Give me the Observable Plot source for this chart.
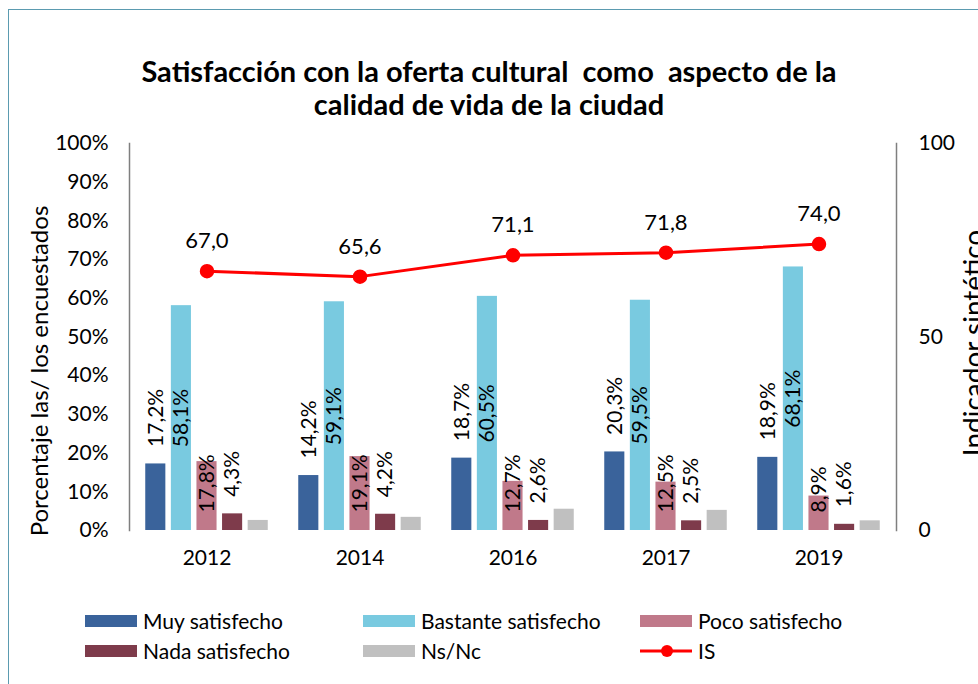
<!DOCTYPE html>
<html>
<head>
<meta charset="utf-8">
<script src="https://cdn.jsdelivr.net/npm/d3@7"></script>
<script src="https://cdn.jsdelivr.net/npm/@observablehq/plot@0.6"></script>
<style>
  html, body { margin: 0; padding: 0; background: #fff; }
  #chart { position: relative; width: 978px; height: 684px; overflow: hidden; font-family: Lato, sans-serif; color: #000; }
  #border { position: absolute; left: 8px; top: 9px; width: 1000px; height: 700px; border-left: 1.5px solid #5b9bb0; border-top: 1.5px solid #5b9bb0; }
  #title { position: absolute; left: 0; width: 978px; top: 54px; text-align: center; font-weight: bold; font-size: 29px; line-height: 33px; }
  .ytitle { position: absolute; white-space: nowrap; line-height: 1.2; transform: translate(-50%, -50%) rotate(-90deg); }
  #plot { position: absolute; left: 0; top: 0; }
  .leg { position: absolute; font-size: 21px; line-height: 22px; white-space: nowrap; }
  .sw { position: absolute; width: 52px; height: 12px; }
</style>
</head>
<body>
<div id="chart">
  <div id="border"></div>
  <div id="title">Satisfacción con la oferta cultural&nbsp; como&nbsp; aspecto de la<br>calidad de vida de la ciudad</div>
  <div id="plot"></div>
  <div class="ytitle" style="left:38.5px; top:371px; font-size:24px;">Porcentaje las/ los encuestados</div>
  <div class="ytitle" style="left:974px; top:343px; font-size:28px;">Indicador sintético</div>
  <div id="legend"></div>
</div>
<script>
const years = ["2012", "2014", "2016", "2017", "2019"];
const series = ["Muy satisfecho", "Bastante satisfecho", "Poco satisfecho", "Nada satisfecho", "Ns/Nc"];
const muy = [17.2, 14.2, 18.7, 20.3, 18.9];
const bastante = [58.1, 59.1, 60.5, 59.5, 68.1];
const poco = [17.8, 19.1, 12.7, 12.5, 8.9];
const nada = [4.3, 4.2, 2.6, 2.5, 1.6];
const nsnc = [2.6, 3.4, 5.5, 5.2, 2.5];
const isValues = [67.0, 65.6, 71.1, 71.8, 74.0];
const leftTicks = [0, 10, 20, 30, 40, 50, 60, 70, 80, 90, 100];
const rightTicks = [0, 50, 100];
const colors = ["#3a639b", "#79cae0", "#c0798a", "#7e3b4b", "#c0c0c0"];
const isColor = "#ff0000";

const seriesValues = [muy, bastante, poco, nada, nsnc];
const fmt = v => v.toFixed(1).replace(".", ",");

const step = 25.6, barW = 20.5;
const bandW = (978 - 129 - 82) / years.length;
const inset = (bandW - barW) / 2;
const fs = 21;

const marks = [];
marks.push(Plot.axisY({anchor: "left", ticks: leftTicks, tickFormat: d => d + "%", tickSize: 0, tickPadding: 21, fontSize: fs, label: null}));
marks.push(Plot.axisY({anchor: "right", ticks: rightTicks, tickFormat: d => String(d), tickSize: 0, tickPadding: 22, fontSize: fs, label: null}));
marks.push(Plot.axisX({tickSize: 0, tickPadding: 20, fontSize: fs, label: null}));

seriesValues.forEach((vals, j) => {
  const rows = years.map((y, i) => ({year: y, value: vals[i]}));
  const dx = (j - 2) * step;
  marks.push(Plot.barY(rows, {x: "year", y: "value", fill: colors[j], dx, insetLeft: inset, insetRight: inset}));
  if (j === 0 || j === 3) {
    marks.push(Plot.text(rows, {x: "year", y: "value", text: d => fmt(d.value) + "%", rotate: -90, textAnchor: "start", dx, dy: -17, fontSize: fs, fill: "#000"}));
  } else if (j === 1) {
    marks.push(Plot.text(rows, {x: "year", y: d => d.value / 2, text: d => fmt(d.value) + "%", rotate: -90, textAnchor: "middle", dx, fontSize: fs, fill: "#000"}));
  } else if (j === 2) {
    marks.push(Plot.text(rows, {x: "year", y: 0, text: d => fmt(d.value) + "%", rotate: -90, textAnchor: "start", dx, dy: -18, fontSize: fs, fill: "#000"}));
  }
});

const isRows = years.map((y, i) => ({year: y, v: isValues[i]}));
marks.push(Plot.line(isRows, {x: "year", y: "v", stroke: isColor, strokeWidth: 3}));
marks.push(Plot.dot(isRows, {x: "year", y: "v", r: 6.5, fill: isColor, stroke: isColor}));
marks.push(Plot.text(isRows, {x: "year", y: "v", text: d => fmt(d.v), dy: -30, fontSize: 22, fill: "#000"}));
marks.push(Plot.frame({anchor: "left", stroke: "#7f7f7f", strokeWidth: 1.5}));
marks.push(Plot.frame({anchor: "right", stroke: "#7f7f7f", strokeWidth: 1.5}));

const plot = Plot.plot({
  width: 978, height: 684,
  marginLeft: 129, marginRight: 82, marginTop: 143, marginBottom: 154,
  x: {domain: years, padding: 0, axis: null},
  y: {domain: [0, 100], axis: null},
  style: {fontFamily: "Lato, sans-serif", fontSize: "21px", color: "#000", background: "transparent", overflow: "visible"},
  marks
});
document.getElementById("plot").appendChild(plot);

// legend
const legend = document.getElementById("legend");
const legItems = series.map((s, j) => ({label: s, color: colors[j], type: "rect"})).concat([{label: "IS", color: isColor, type: "line"}]);
const colX = [85, 363, 640];
const rowY = [621, 651];
legItems.forEach((it, k) => {
  const cx = colX[k % 3], cy = rowY[Math.floor(k / 3)];
  if (it.type === "rect") {
    const sw = document.createElement("div");
    sw.className = "sw";
    sw.style.left = cx + "px"; sw.style.top = (cy - 6) + "px"; sw.style.background = it.color;
    legend.appendChild(sw);
  } else {
    const ns = "http://www.w3.org/2000/svg";
    const svg = document.createElementNS(ns, "svg");
    svg.setAttribute("width", 52); svg.setAttribute("height", 16);
    svg.style.position = "absolute"; svg.style.left = cx + "px"; svg.style.top = (cy - 8) + "px";
    const ln = document.createElementNS(ns, "line");
    ln.setAttribute("x1", 0); ln.setAttribute("x2", 52); ln.setAttribute("y1", 8); ln.setAttribute("y2", 8);
    ln.setAttribute("stroke", it.color); ln.setAttribute("stroke-width", 3);
    const c = document.createElementNS(ns, "circle");
    c.setAttribute("cx", 27); c.setAttribute("cy", 8); c.setAttribute("r", 6); c.setAttribute("fill", it.color);
    svg.appendChild(ln); svg.appendChild(c);
    legend.appendChild(svg);
  }
  const t = document.createElement("div");
  t.className = "leg";
  t.textContent = it.label;
  t.style.left = (cx + 58) + "px"; t.style.top = (cy - 11) + "px";
  legend.appendChild(t);
});
</script>
</body>
</html>
